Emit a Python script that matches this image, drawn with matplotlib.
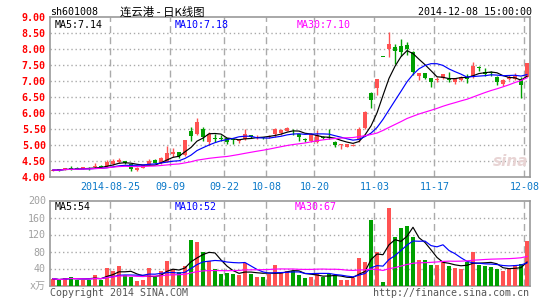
import numpy as np
import pandas as pd
import matplotlib
matplotlib.use("Agg")
import matplotlib.pyplot as plt

# ---------------- data ----------------
opens = [4.19,4.21,4.23,4.28,4.28,4.25,4.28,4.30,4.35,4.34,
         4.40,4.45,4.48,4.39,4.21,4.28,4.37,4.52,4.42,4.47,
         4.71,4.76,4.68,5.43,5.35,5.50,5.08,5.21,5.21,5.20,
         5.19,5.12,5.17,5.30,5.22,5.25,5.24,5.34,5.38,5.44,
         5.43,5.33,5.16,5.12,5.10,5.25,5.26,5.10,4.99,4.94,
         4.97,5.15,5.54,6.64,6.77,7.76,8.00,8.08,8.10,8.13,
         7.92,7.17,7.24,7.10,7.03,7.10,7.06,6.96,7.03,7.12,
         7.14,7.41,7.30,7.26,7.14,6.90,7.08,7.06,7.06,7.14]
closes = [4.21,4.20,4.27,4.24,4.25,4.29,4.25,4.34,4.31,4.45,
          4.49,4.52,4.42,4.24,4.28,4.37,4.49,4.44,4.60,4.73,
          4.78,4.65,5.15,5.28,5.72,5.26,5.33,5.19,5.19,5.10,
          5.15,5.16,5.34,5.25,5.24,5.21,5.28,5.49,5.46,5.54,
          5.42,5.25,5.15,5.34,5.30,5.20,5.20,5.00,5.00,5.03,
          5.00,5.49,6.04,6.41,7.07,7.75,8.16,7.94,7.92,8.01,
          7.30,7.26,7.09,6.98,7.05,7.22,7.05,7.09,7.14,7.08,
          7.48,7.40,7.22,7.25,6.96,7.03,7.12,7.16,6.88,7.56]
highs = [4.22,4.22,4.28,4.33,4.29,4.30,4.29,4.42,4.36,4.52,
         4.55,4.60,4.50,4.40,4.29,4.38,4.57,4.54,4.62,4.97,
         4.91,4.78,5.16,5.57,5.83,5.55,5.40,5.33,5.30,5.22,
         5.20,5.17,5.49,5.31,5.30,5.26,5.30,5.52,5.50,5.56,
         5.50,5.35,5.22,5.36,5.48,5.27,5.49,5.12,5.02,5.04,
         5.02,5.57,6.05,6.66,7.08,7.76,8.55,8.15,8.32,8.24,
         7.93,7.27,7.25,7.11,7.13,7.23,7.28,7.10,7.15,7.21,
         7.61,7.48,7.42,7.33,7.17,7.06,7.18,7.24,7.12,7.57]
lows = [4.17,4.19,4.22,4.22,4.24,4.24,4.22,4.28,4.30,4.32,
        4.38,4.43,4.40,4.19,4.18,4.27,4.36,4.42,4.40,4.45,
        4.62,4.58,4.66,5.13,5.30,5.12,5.00,5.10,5.12,5.02,
        5.02,5.07,5.15,5.23,5.18,5.19,5.22,5.25,5.30,5.42,
        5.32,5.12,5.08,5.10,5.05,5.17,5.18,4.94,4.86,4.92,
        4.95,5.10,5.50,6.15,6.56,7.75,7.75,7.53,7.80,7.83,
        7.19,7.03,7.06,6.82,6.98,7.08,6.97,6.90,7.00,6.93,
        7.10,7.32,7.15,7.15,6.88,6.86,7.02,7.04,6.46,7.12]
volumes = [16,12,17,21,14,14,14,24,14,41,
           35,47,24,20,10,13,41,21,35,57,
           38,31,45,108,102,78,57,38,26,29,
           26,24,53,26,21,20,27,49,29,35,
           35,24,18,21,26,21,26,24,14,12,
           18,65,55,155,78,9,182,115,135,139,
           114,59,59,49,49,57,47,41,38,55,
           80,49,45,43,38,34,38,49,51,104]
date_tick_index = [10, 20, 29, 36, 44, 54, 64, 79]
date_tick_labels = ["2014-08-25", "09-09", "09-22", "10-08", "10-20", "11-03", "11-17", "12-08"]
price_ticks = [4.0, 4.5, 5.0, 5.5, 6.0, 6.5, 7.0, 7.5, 8.0, 8.5, 9.0]
vol_ticks = [40, 80, 120, 160, 200]
ma_text_price = ["MA5:7.14", "MA10:7.18", "MA30:7.10"]
ma_text_vol = ["MA5:54", "MA10:52", "MA30:67"]

# ---------------- style ----------------
RED = "#FF5252"
GREEN = "#00A000"
GRID = "#AAAAAA"
BORDER = "#999999"
MONO = "DejaVu Sans Mono"
CJK = ["Noto Sans CJK SC", "DejaVu Sans"]
MA_COLORS = ["#000000", "#0000FF", "#FF00FF"]

W, H = 545, 300
fig = plt.figure(figsize=(W / 100, H / 100), dpi=100)
fig.patch.set_facecolor("white")

def fx(x):
    return x / W

def fy(y):
    return 1 - y / H

ax = fig.add_axes([fx(50), fy(176.7), fx(480), (176.7 - 17.4) / H])
axv = fig.add_axes([fx(50), fy(285.5), fx(480), (285.5 - 200.5) / H])

o = np.array(opens); c = np.array(closes); hi = np.array(highs); lo = np.array(lows)
v = np.array(volumes)
n = len(o)
x = np.arange(n)
up = c >= o
cols = np.where(up, RED, GREEN)

# candles
ax.vlines(x, lo, hi, colors=cols, linewidth=1.0, zorder=3)
body_h = np.maximum(np.abs(c - o), 0.03)
ax.bar(x, body_h, bottom=np.minimum(o, c), width=0.83, color=cols, linewidth=0, zorder=4)

cs = pd.Series(c)
for w, col in zip([5, 10, 30], MA_COLORS):
    ax.plot(x, cs.rolling(w, min_periods=1).mean(), color=col, lw=0.85, zorder=5)

# volume
axv.bar(x, v, width=0.83, color=cols, linewidth=0, zorder=3)
vs = pd.Series(v, dtype=float)
for w, col in zip([5, 10, 30], MA_COLORS):
    axv.plot(x, vs.rolling(w, min_periods=1).mean(), color=col, lw=0.85, zorder=5)

grid_x = [i - 0.45 for i in date_tick_index]
for a, ylim, yt in [(ax, (4.0, 9.0), price_ticks[1:-1]), (axv, (0, 200), vol_ticks[:-1])]:
    a.set_xlim(-0.5, n - 0.5)
    a.set_ylim(*ylim)
    for s in a.spines.values():
        s.set_color(BORDER)
        s.set_linewidth(1.2)
    for yy in yt:
        a.axhline(yy, color=GRID, lw=1.0, ls=(0, (1, 2)), zorder=1)
    for gx in grid_x:
        a.axvline(gx, color=GRID, lw=1.0, ls=(0, (5, 3)), zorder=1)
    a.tick_params(length=0)

# price axis ticks
ax.set_yticks(price_ticks)
ax.set_yticklabels(["%.2f" % p for p in price_ticks], color="#FF0000",
                   fontfamily=MONO, fontsize=7.2, fontweight="bold")
ax.tick_params(axis="y", pad=3)
ax.set_xticks(grid_x)
ax.set_xticklabels(date_tick_labels, color="#0A78C8", fontfamily=MONO, fontsize=7.2)
ax.tick_params(axis="x", pad=3.5)

# volume axis ticks
axv.set_yticks(vol_ticks)
axv.set_yticklabels([str(t) for t in vol_ticks], color="#A0A0A0", fontfamily=MONO, fontsize=7.2)
axv.tick_params(axis="y", pad=3)
axv.set_xticks([])

# header texts
fig.text(fx(50.5), fy(12), "sh601008", fontfamily=MONO, fontsize=7.2, color="#000000", va="center", ha="left")
fig.text(fx(120), fy(12), "连云港 - 日K线图", family=CJK, fontsize=8.2, color="#000000", va="center", ha="left")
fig.text(fx(532), fy(12), "2014-12-08 15:00:00", fontfamily=MONO, fontsize=7.2, color="#000000", va="center", ha="right")

for txt, xx, col in zip(ma_text_price, [55, 175, 296.5], MA_COLORS):
    fig.text(fx(xx), fy(24.5), txt, fontfamily=MONO, fontsize=7.2, color=col, va="center", ha="left")
for txt, xx, col in zip(ma_text_vol, [55, 175, 295], MA_COLORS):
    fig.text(fx(xx), fy(206.5), txt, fontfamily=MONO, fontsize=7.2, color=col, va="center", ha="left")

fig.text(fx(46), fy(286), "x万", family=[MONO, "Noto Sans CJK SC"], fontsize=7.2, color="#A0A0A0", va="center", ha="right")
fig.text(fx(50), fy(293.5), "Copyright 2014 SINA.COM", fontfamily=MONO, fontsize=7.2, color="#555555", va="center", ha="left")
fig.text(fx(529), fy(293.5), "http://finance.sina.com.cn", fontfamily=MONO, fontsize=7.2, color="#555555", va="center", ha="right")
fig.text(fx(528), fy(161), "sina", fontfamily="DejaVu Sans", fontsize=11, fontweight="bold", style="italic",
         color="#E8D4D4", va="center", ha="right", zorder=0)

fig.savefig("out.png", dpi=100, facecolor="white")
